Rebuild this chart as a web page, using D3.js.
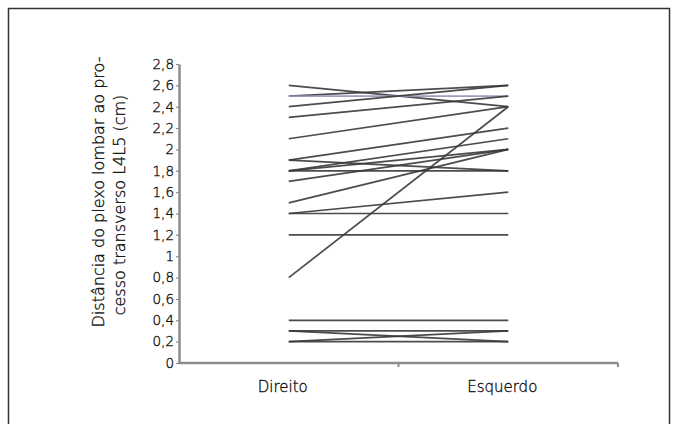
<!DOCTYPE html>
<html>
<head>
<meta charset="utf-8">
<script src="https://cdn.jsdelivr.net/npm/d3@7"></script>
<style>
  body { margin: 0; background: #fff; }
  text { font-family: "DejaVu Sans", sans-serif; fill: #111; font-weight: 200;
         stroke: #111; stroke-width: 0.35px; }
</style>
</head>
<body>
<div id="chart"></div>
<script>
// data
const sides = ["Direito", "Esquerdo"];
const direito  = [2.6, 2.5, 2.5, 2.4, 2.3, 2.1, 1.9, 1.9, 1.8, 1.8, 1.8, 1.7, 1.5, 1.4, 1.4, 1.2, 0.8, 0.4, 0.3, 0.3, 0.2, 0.2];
const esquerdo = [2.4, 2.6, 2.5, 2.6, 2.5, 2.4, 2.2, 1.8, 2.1, 2.0, 1.8, 2.0, 2.0, 1.6, 1.4, 1.2, 2.4, 0.4, 0.2, 0.3, 0.3, 0.2];
const highlight = [2]; // the one purple-ish line
const yTicks = [0, 0.2, 0.4, 0.6, 0.8, 1, 1.2, 1.4, 1.6, 1.8, 2, 2.2, 2.4, 2.6, 2.8];
const yTickLabels = ["0", "0,2", "0,4", "0,6", "0,8", "1", "1,2", "1,4", "1,6", "1,8", "2", "2,2", "2,4", "2,6", "2,8"];
const yTitle = ["Distância do plexo lombar ao pro-", "cesso transverso L4L5 (cm)"];

// dim
const W = 678, H = 424;
const margin = {top: 64, right: 60, bottom: 61, left: 179};

const svg = d3.select("#chart")
  .append("svg")
    .attr("width", W)
    .attr("height", H);

// outer frame (bottom edge is cut off in the original)
svg.append("rect")
  .attr("x", 8.5).attr("y", 8.5)
  .attr("width", 661).attr("height", 430)
  .attr("fill", "none")
  .attr("stroke", "#333")
  .attr("stroke-width", 1.5);

const x = d3.scaleBand()
  .domain(sides)
  .range([margin.left, W - margin.right])
  .padding(0);

const y = d3.scaleLinear()
  .domain([0, 2.8])
  .range([H - margin.bottom, margin.top]);

const axisColor = "#8c8c8c";

// y axis
const yAxis = svg.append("g")
  .attr("transform", `translate(${margin.left},0)`)
  .call(d3.axisLeft(y).tickValues(yTicks)
    .tickFormat((d, i) => yTickLabels[i])
    .tickSize(3).tickPadding(2).tickSizeOuter(0));
yAxis.select(".domain").attr("stroke", axisColor).attr("stroke-width", 2.5);
yAxis.selectAll(".tick line").attr("stroke", axisColor).attr("stroke-width", 1.2);
yAxis.selectAll(".tick text")
  .style("font-size", "13.5px")
  .style("font-family", "'DejaVu Sans', sans-serif")
  .style("font-weight", 200)
  .attr("fill", "#111")
  .attr("stroke", "#111")
  .attr("stroke-width", 0.35);

// x axis line + ticks at band edges
const x0 = margin.left, x1 = W - margin.right;
svg.append("line")
  .attr("x1", x0).attr("x2", x1)
  .attr("y1", y(0)).attr("y2", y(0))
  .attr("stroke", axisColor).attr("stroke-width", 2.5);
const edges = sides.map(s => x(s)).concat([x(sides[1]) + x.bandwidth()]);
svg.selectAll(".xtick")
  .data(edges.slice(1))
  .join("line")
    .attr("x1", d => d).attr("x2", d => d)
    .attr("y1", y(0)).attr("y2", y(0) + 4)
    .attr("stroke", axisColor).attr("stroke-width", 2);

svg.selectAll(".xlab")
  .data(sides)
  .join("text")
    .attr("x", d => x(d) + x.bandwidth() / 2 - 6)
    .attr("y", y(0) + 29)
    .attr("text-anchor", "middle")
    .style("font-size", "15px")
    .text(d => d);

// y title, two lines
svg.append("text")
  .attr("transform", "translate(98,192) rotate(-90)")
  .attr("text-anchor", "middle")
  .attr("dy", "0.35em")
  .style("font-size", "16px")
  .text(yTitle[0]);
svg.append("text")
  .attr("transform", "translate(119,205) rotate(-90)")
  .attr("text-anchor", "middle")
  .attr("dy", "0.35em")
  .style("font-size", "16px")
  .text(yTitle[1]);

// lines
const cx = s => x(s) + x.bandwidth() / 2;
svg.append("g")
  .selectAll("line")
  .data(direito.map((d, i) => ({a: d, b: esquerdo[i], i: i})))
  .join("line")
    .attr("x1", cx(sides[0]))
    .attr("x2", cx(sides[1]))
    .attr("y1", d => y(d.a))
    .attr("y2", d => y(d.b))
    .attr("stroke", d => highlight.includes(d.i) ? "#9a90b8" : "#3b3738")
    .attr("stroke-opacity", 0.9)
    .attr("stroke-width", 1.7);
</script>
</body>
</html>
